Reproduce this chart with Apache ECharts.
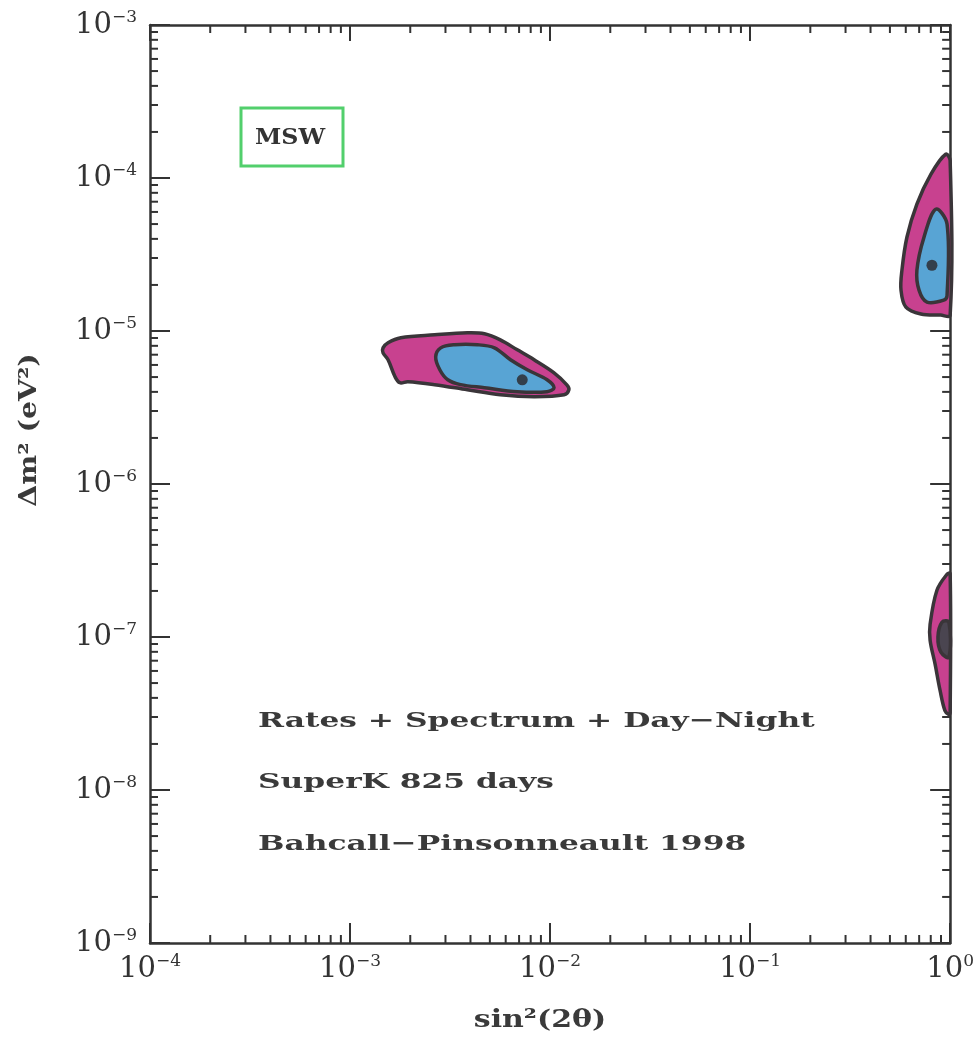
<!DOCTYPE html>
<html>
<head>
<meta charset="utf-8">
<script src="https://cdn.jsdelivr.net/npm/echarts@6/dist/echarts.min.js"></script>
<style>
html,body{margin:0;padding:0;background:#fff;}
#chart{width:977px;height:1042px;}
</style>
</head>
<body>
<div id="chart"></div>
<script>
// ---- axis ranges & ticks ----
const X_MIN = 1e-4, X_MAX = 1;
const Y_MIN = 1e-9, Y_MAX = 1e-3;
const X_DECADES = [1e-4, 1e-3, 1e-2, 1e-1];
const Y_DECADES = [1e-9, 1e-8, 1e-7, 1e-6, 1e-5, 1e-4];
const MINOR_MULT = [2, 3, 4, 5, 6, 7, 8, 9];

// ---- allowed regions: [sin^2(2theta), dm^2] ----
const SMA_outer = [
  [1.462e-3, 7.76e-6], [1.549e-3, 8.38e-6], [1.795e-3, 9.04e-6], [2.65e-3, 9.44e-6],
  [3.86e-3, 9.73e-6], [4.70e-3, 9.59e-6], [5.64e-3, 8.75e-6], [6.86e-3, 7.53e-6],
  [8.32e-3, 6.49e-6], [1.047e-2, 5.33e-6], [1.213e-2, 4.45e-6], [1.242e-2, 4.13e-6],
  [1.175e-2, 3.83e-6], [8.32e-3, 3.72e-6], [5.64e-3, 3.83e-6], [3.86e-3, 4.13e-6],
  [2.65e-3, 4.46e-6], [1.945e-3, 4.66e-6], [1.774e-3, 4.59e-6], [1.679e-3, 5.02e-6],
  [1.549e-3, 6.49e-6], [1.462e-3, 7.19e-6]
];
const SMA_inner = [
  [2.68e-3, 6.78e-6], [2.84e-3, 7.76e-6], [3.33e-3, 8.13e-6], [4.34e-3, 8.13e-6],
  [5.27e-3, 7.76e-6], [6.34e-3, 6.49e-6], [7.69e-3, 5.58e-6], [9.66e-3, 4.80e-6],
  [1.047e-2, 4.26e-6], [9.66e-3, 4.01e-6], [6.86e-3, 4.01e-6], [4.70e-3, 4.26e-6],
  [3.57e-3, 4.46e-6], [3.08e-3, 4.80e-6], [2.81e-3, 5.58e-6]
];
const LMA_outer = [
  [0.95, 1.43e-4], [0.802, 1.06e-4], [0.682, 6.75e-5], [0.608, 4.10e-5], [0.574, 2.49e-5],
  [0.568, 1.85e-5], [0.601, 1.43e-5], [0.714, 1.29e-5], [0.897, 1.27e-5], [1.0, 1.27e-5],
  [1.0, 1.30e-4]
];
const LMA_inner = [
  [0.847, 6.25e-5], [0.74, 4.10e-5], [0.682, 2.49e-5], [0.699, 1.85e-5], [0.766, 1.545e-5],
  [0.929, 1.59e-5], [0.965, 1.7e-5], [0.965, 5.0e-5]
];
const LOW_outer = [
  [0.964, 2.57e-7], [0.859, 2.02e-7], [0.794, 1.21e-7], [0.794, 9.53e-8], [0.841, 6.64e-8],
  [0.89, 4.49e-8], [0.942, 3.30e-8], [0.986, 3.11e-8], [1.0, 3.2e-8], [1.0, 2.6e-7]
];
const LOW_inner = [
  [0.91, 1.25e-7], [0.869, 9.98e-8], [0.899, 7.96e-8], [0.986, 7.38e-8], [0.986, 1.25e-7]
];
const bestFit = [[7.26e-3, 4.80e-6], [0.811, 2.69e-5]];

// ---- labels ----
const xName = 'sin²(2θ)';
const yName = 'Δm² (eV²)';
const boxLabel = 'MSW';
const notes = ['Rates + Spectrum + Day−Night', 'SuperK 825 days', 'Bahcall−Pinsonneault 1998'];

const MAGENTA = '#c8418f', BLUE = '#58a4d4', OUTLINE = '#3a3539', INK = '#333';

const chart = echarts.init(document.getElementById('chart'), null, {renderer: 'canvas'});

function expLabel(v) {
  const e = Math.round(Math.log10(v));
  return '{b|10}{s|' + (e < 0 ? '−' + (-e) : String(e)) + '}';
}
const richLab = {
  b: {fontFamily: 'DejaVu Serif', fontSize: 29, lineHeight: 32, color: INK},
  s: {fontFamily: 'DejaVu Serif', fontSize: 17, lineHeight: 18, verticalAlign: 'top', color: INK}
};

function polySeries(name, pts, fill) {
  return {
    type: 'custom', name: name, coordinateSystem: 'cartesian2d',
    xAxisIndex: 0, yAxisIndex: 0, silent: true, clip: false,
    data: pts, encode: {x: 0, y: 1},
    renderItem: function (params, api) {
      if (params.dataIndex !== 0) return null;
      const points = pts.map(p => api.coord(p));
      return {type: 'polygon', shape: {points: points, smooth: 0.35},
        style: {fill: fill, stroke: OUTLINE, lineWidth: 3.5, lineJoin: 'round'}};
    }
  };
}

const minorData = [];
X_DECADES.forEach(d => MINOR_MULT.forEach(m => minorData.push([m * d, Y_MIN, 0])));
Y_DECADES.forEach(d => MINOR_MULT.forEach(m => minorData.push([X_MIN, m * d, 1])));

const axisCommon = {
  type: 'log', logBase: 10,
  axisLine: {show: true, lineStyle: {color: INK, width: 2.5}},
  axisTick: {show: true, inside: true, length: 20, lineStyle: {color: INK, width: 2}},
  splitLine: {show: false}, minorTick: {show: false}, minorSplitLine: {show: false}
};

const option = {
  backgroundColor: '#fff',
  animation: false,
  grid: {left: 150, right: 22, top: 25, bottom: 99, containLabel: false},
  xAxis: [
    Object.assign({}, axisCommon, {min: X_MIN, max: X_MAX, splitNumber: 4, position: 'bottom',
      axisLabel: {show: true, margin: 10, formatter: expLabel, rich: richLab, showMinLabel: true, showMaxLabel: true}}),
    Object.assign({}, axisCommon, {min: X_MIN, max: X_MAX, splitNumber: 4, position: 'top',
      axisTick: {show: true, inside: true, length: 16, lineStyle: {color: INK, width: 2}},
      axisLabel: {show: false}})
  ],
  yAxis: [
    Object.assign({}, axisCommon, {min: Y_MIN, max: Y_MAX, splitNumber: 6, position: 'left',
      axisLabel: {show: true, margin: 13, formatter: expLabel, rich: richLab, showMinLabel: true, showMaxLabel: true}}),
    Object.assign({}, axisCommon, {min: Y_MIN, max: Y_MAX, splitNumber: 6, position: 'right',
      axisLabel: {show: false}})
  ],
  series: [
    {
      type: 'custom', name: 'minor ticks', coordinateSystem: 'cartesian2d', silent: true, clip: false,
      data: minorData, encode: {x: 0, y: 1},
      renderItem: function (params, api) {
        const kind = api.value(2);
        const L = 8;
        const st = {stroke: INK, lineWidth: 2};
        if (kind === 0) {
          const v = api.value(0);
          const b = api.coord([v, Y_MIN]), t = api.coord([v, Y_MAX]);
          return {type: 'group', children: [
            {type: 'line', shape: {x1: b[0], y1: b[1], x2: b[0], y2: b[1] - L}, style: st},
            {type: 'line', shape: {x1: t[0], y1: t[1], x2: t[0], y2: t[1] + L}, style: st}
          ]};
        } else {
          const v = api.value(1);
          const l = api.coord([X_MIN, v]), r = api.coord([X_MAX, v]);
          return {type: 'group', children: [
            {type: 'line', shape: {x1: l[0], y1: l[1], x2: l[0] + L, y2: l[1]}, style: st},
            {type: 'line', shape: {x1: r[0], y1: r[1], x2: r[0] - L, y2: r[1]}, style: st}
          ]};
        }
      }
    },
    polySeries('SMA 99%', SMA_outer, MAGENTA),
    polySeries('SMA 90%', SMA_inner, BLUE),
    polySeries('LMA 99%', LMA_outer, MAGENTA),
    polySeries('LMA 90%', LMA_inner, BLUE),
    polySeries('LOW 99%', LOW_outer, MAGENTA),
    polySeries('LOW 90%', LOW_inner, '#4a4550'),
    {
      type: 'scatter', name: 'best fit', data: bestFit, symbol: 'circle', symbolSize: 11,
      itemStyle: {color: '#2a2628'}, silent: true, z: 5
    }
  ],
  graphic: [
    {type: 'rect', shape: {x: 241, y: 108, width: 102, height: 58},
      style: {fill: 'none', stroke: '#52cf6c', lineWidth: 3}, z: 10},
    {type: 'text', x: 290, y: 138, scaleX: 1.08, z: 10,
      style: {text: boxLabel, font: 'bold 22px "DejaVu Serif"', fill: INK, textAlign: 'center', textVerticalAlign: 'middle'}},
    {type: 'text', x: 258, y: 722, scaleX: 1.49, z: 10,
      style: {text: notes[0], font: 'bold 21px "DejaVu Serif"', fill: '#3a3a3a', textAlign: 'left', textVerticalAlign: 'middle'}},
    {type: 'text', x: 258, y: 783, scaleX: 1.49, z: 10,
      style: {text: notes[1], font: 'bold 21px "DejaVu Serif"', fill: '#3a3a3a', textAlign: 'left', textVerticalAlign: 'middle'}},
    {type: 'text', x: 258, y: 845, scaleX: 1.49, z: 10,
      style: {text: notes[2], font: 'bold 21px "DejaVu Serif"', fill: '#3a3a3a', textAlign: 'left', textVerticalAlign: 'middle'}},
    {type: 'text', x: 540, y: 1020, scaleX: 1.2, z: 10,
      style: {text: xName, font: 'bold 25px "DejaVu Serif"', fill: '#3a3a3a', textAlign: 'center', textVerticalAlign: 'middle'}},
    {type: 'text', x: 30, y: 430, rotation: Math.PI / 2, scaleX: 1.18, z: 10,
      style: {text: yName, font: 'bold 24px "DejaVu Serif"', fill: '#3a3a3a', textAlign: 'center', textVerticalAlign: 'middle'}}
  ]
};
chart.setOption(option);
</script>
</body>
</html>
